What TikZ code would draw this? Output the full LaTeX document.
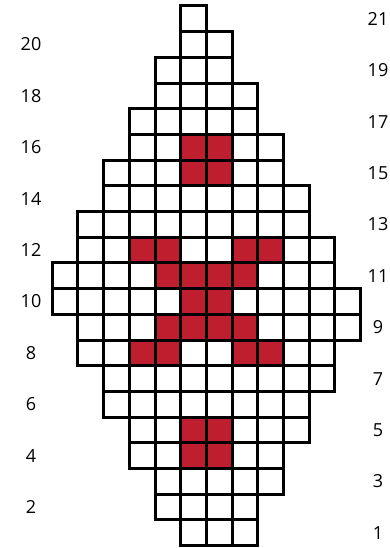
\documentclass[tikz,border=0pt]{standalone}
\usepackage{fontspec}
\setmainfont{Open Sans}
\definecolor{cellred}{RGB}{190,30,45}
\begin{document}
\begin{tikzpicture}[x=1pt,y=1pt]
\useasboundingbox (0,0) rectangle (390,548);
\def\s{25.7}
\def\xo{52.2}
\def\yo{2.3}
\tikzset{
  cell/.style={draw=black,line width=3pt},
  lab/.style={font=\fontsize{18}{20}\selectfont, inner sep=0pt}
}
% red cells
\foreach \r/\c in {16/5,16/6,15/5,15/6,12/3,12/4,12/7,12/8,11/4,11/5,11/6,11/7,10/5,10/6,9/4,9/5,9/6,9/7,8/3,8/4,8/7,8/8,5/5,5/6,4/5,4/6}
  \fill[cellred] ({\xo+\c*\s},{\yo+(\r-1)*\s}) rectangle +(\s,\s);
% grid cells
\foreach \r/\a/\b in {21/5/5,20/5/6,19/4/6,18/4/7,17/3/7,16/3/8,15/2/8,14/2/9,13/1/9,12/1/10,11/0/10,10/0/11,9/1/11,8/1/10,7/2/10,6/2/9,5/3/9,4/3/8,3/4/8,2/4/7,1/5/7}
  \foreach \c in {\a,...,\b}
    \draw[cell] ({\xo+\c*\s},{\yo+(\r-1)*\s}) rectangle +(\s,\s);
% labels
\foreach \r in {2,4,...,20}
  \node[lab] (lab\r) at (31,{\yo+(\r-0.5)*\s}) {\r};
\foreach \r in {1,3,...,21}
  \node[lab] (lab\r) at (378,{\yo+(\r-0.5)*\s}) {\r};
\end{tikzpicture}
\end{document}
